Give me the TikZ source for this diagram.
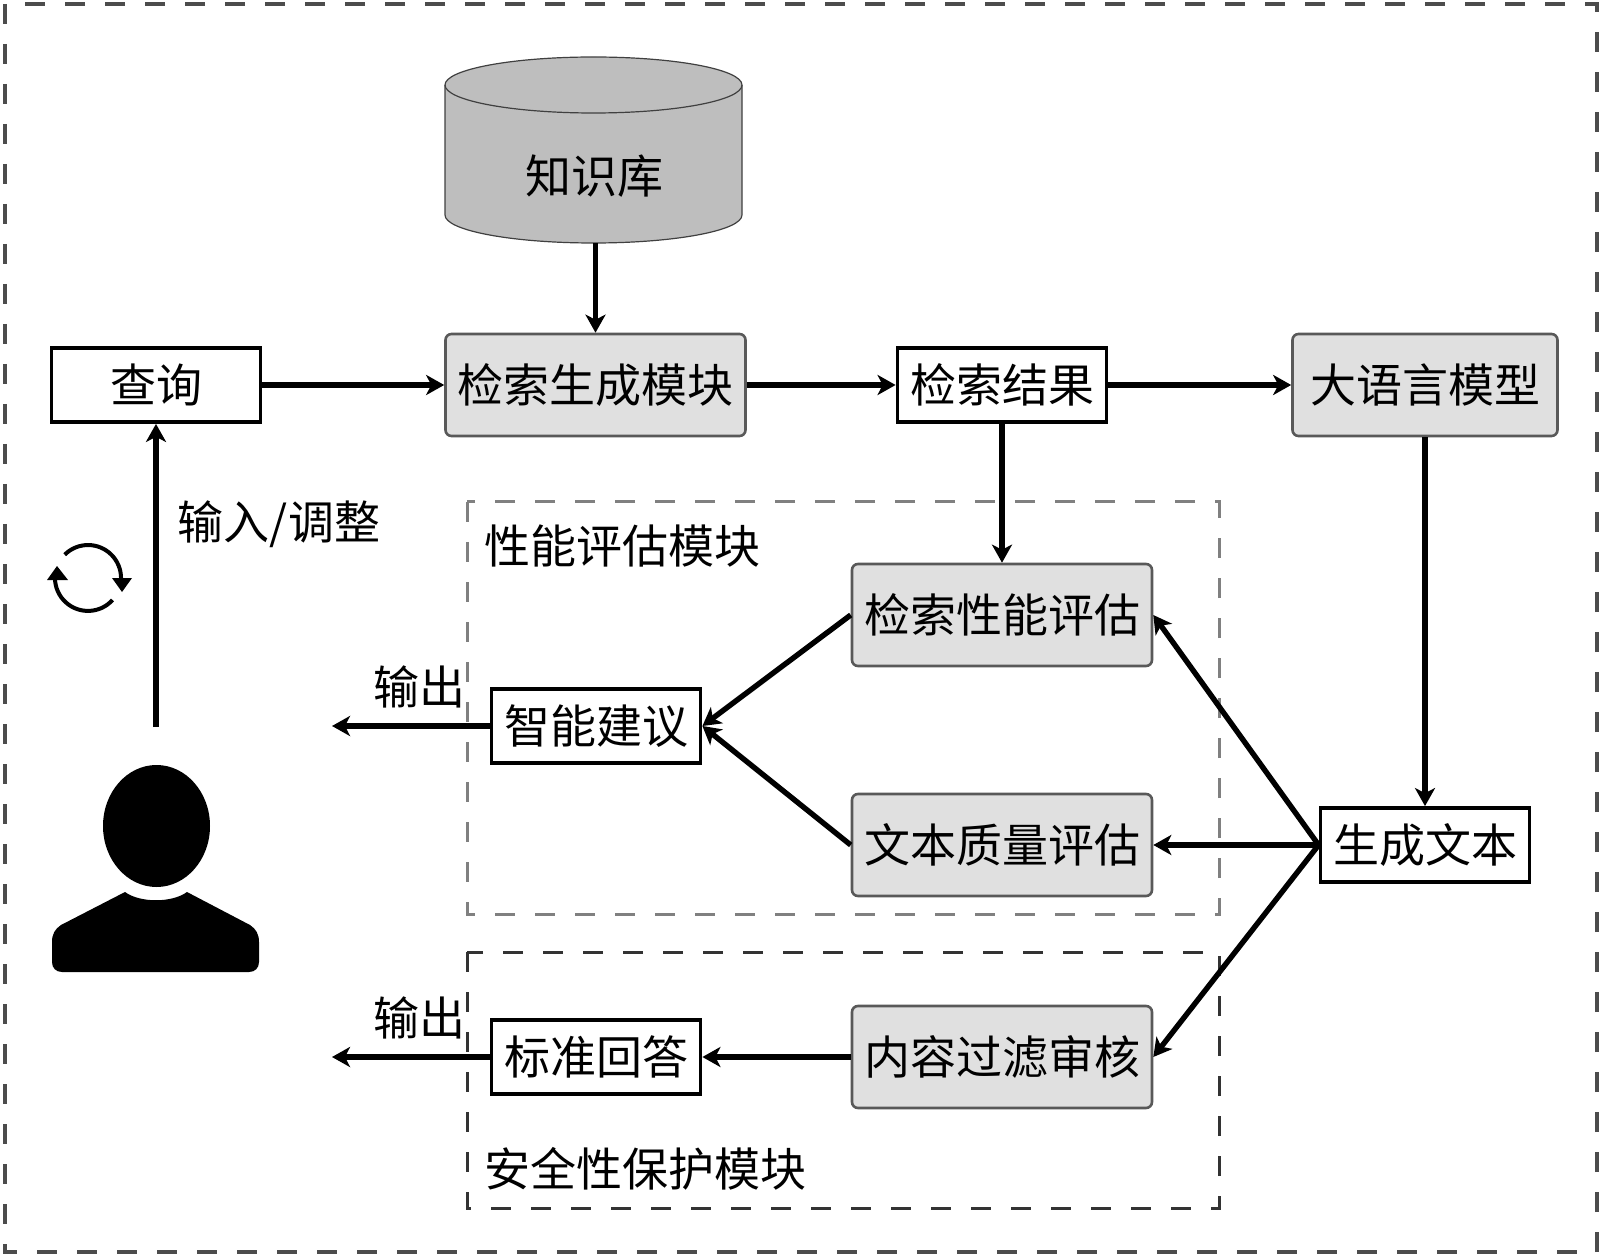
\documentclass[tikz,border=0pt]{standalone}
\usepackage{fontspec}
\newfontfamily\cjk{Noto Sans CJK SC}
\usetikzlibrary{arrows.meta}
\definecolor{panelgray}{HTML}{E0E0E0}
\definecolor{cylgray}{HTML}{BEBEBE}
\tikzset{
  label text/.style={font=\cjk\fontsize{23}{28}\selectfont,inner sep=0pt},
  graybox/.style={label text,draw=black!65,line width=1.3pt,fill=panelgray,rounded corners=3pt,
    minimum width=150pt,minimum height=51pt},
  whitebox/.style={label text,draw=black,line width=1.9pt,fill=white,
    minimum width=104.5pt,minimum height=37pt},
  flow/.style={line width=2.7pt,-{Stealth[length=9pt,width=10pt,inset=2.5pt]}},
  group frame/.style={line width=1.5pt,dash pattern=on 10pt off 10pt},
  cyl line/.style={draw=black!75,line width=0.6pt}
}
\begin{document}
\begin{tikzpicture}[x=0.5pt,y=-0.5pt]
    \useasboundingbox (0,0) rectangle (1600,1256);
    \draw[black!70,line width=2.2pt,dash pattern=on 10pt off 10pt] (5,4) rectangle (1597,1252);
    \draw[group frame,black!50] (467,502) rectangle (1219,914);
    \draw[group frame,black!80] (467,952) rectangle (1219,1208);
    \node[label text] (evalgroup) at (622,546) {性能评估模块};
    \node[label text] (safegroup) at (645,1169) {安全性保护模块};

    \filldraw[cyl line,fill=cylgray] (445,85) -- (445,215) arc[start angle=180,end angle=0,x radius=148.5,y radius=28]
      -- (742,85) arc[start angle=0,end angle=-180,x radius=148.5,y radius=28] -- cycle;
    \draw[cyl line] (445,85) arc[start angle=180,end angle=0,x radius=148.5,y radius=28];
    \node[minimum width=148.5pt,minimum height=93pt,inner sep=0pt] (kb) at (593.5,150) {};
    \node[label text] (kbtext) at (594,176) {知识库};

    \foreach \n/\x/\y/\t in {query/156/385/查询,hits/1002/385/检索结果,advice/596/726/智能建议,
      gentext/1425/845/生成文本,answer/596/1057/标准回答}{
      \node[whitebox] (\n) at (\x,\y) {\t};
    }
    \foreach \n/\x/\y/\t in {retgen/595.5/385/检索生成模块,evalret/1002/615/检索性能评估,
      evaltext/1002/845/文本质量评估,filter/1002/1057/内容过滤审核}{
      \node[graybox] (\n) at (\x,\y) {\t};
    }
    \node[graybox,minimum width=132.5pt] (llm) at (1425,385) {大语言模型};

    \coordinate (userin) at (156,727);
    \coordinate (outa) at (332,726);
    \coordinate (outb) at (332,1057);

    \foreach \a/\b in {query/retgen,retgen/hits,hits/llm}{
      \draw[flow] (\a) -- (\b);
    }
    \draw[flow] (retgen.north |- kb.south) -- (retgen);
    \draw[flow] (hits) -- (evalret);
    \draw[flow] (llm) -- (gentext);
    \draw[flow] (gentext.west) -- (evaltext.east);
    \draw[flow] (gentext.west) -- (evalret.east);
    \draw[flow] (gentext.west) -- (filter.east);
    \draw[flow] (evalret.west) -- (advice.east);
    \draw[flow] (evaltext.west) -- (advice.east);
    \draw[flow] (filter) -- (answer);
    \draw[flow] (userin) -- (query);
    \draw[flow] (advice) -- (outa);
    \draw[flow] (answer) -- (outb);

    \node[label text] (inlabel) at (279,524) {输入/调整};
    \node[label text] (outlabela) at (419,687) {输出};
    \node[label text] (outlabelb) at (419,1018) {输出};

    \draw[line width=2pt] (64.7,554.7) arc[start angle=225,end angle=360,radius=33];
    \fill (112,578) -- (132,578) -- (122,592) -- cycle;
    \draw[line width=2pt] (112.5,600) arc[start angle=42,end angle=180,radius=33];
    \fill (47,580) -- (68,580) -- (57,566) -- cycle;

    \fill (156.5,826) ellipse[x radius=53.5,y radius=61];
    \fill (125,892) .. controls (140,903) and (172,903) .. (187,892) -- (250,925)
      .. controls (256,929) and (259,934) .. (259,942) -- (259,962)
      .. controls (259,968) and (255,972) .. (249,972) -- (62,972)
      .. controls (56,972) and (52,968) .. (52,962) -- (52,942)
      .. controls (52,934) and (55,929) .. (61,925) -- cycle;
  \end{tikzpicture}
\end{document}
